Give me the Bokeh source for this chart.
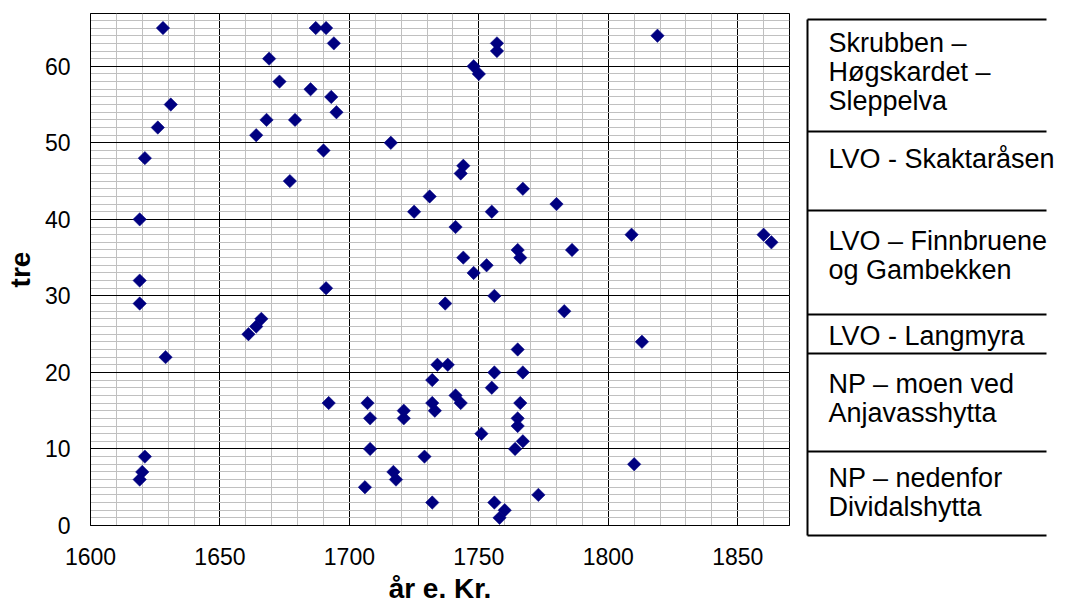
from bokeh.plotting import figure
from bokeh.models import Range1d, SingleIntervalTicker, ColumnDataSource
from bokeh.layouts import row, column
from bokeh.embed import file_html
from bokeh.resources import INLINE
from bokeh.core.properties import value
import numpy as np

# ---- data ----
years = [1628, 1687, 1691, 1694, 1819, 1757, 1757, 1748, 1750, 1669,
         1673, 1685, 1693, 1695, 1631, 1668, 1679, 1626, 1664, 1716,
         1690, 1621, 1744, 1743, 1677, 1767, 1731, 1780, 1725, 1755,
         1619, 1741, 1809, 1860, 1863, 1765, 1786, 1744, 1766, 1753,
         1748, 1619, 1691, 1756, 1619, 1737, 1783, 1666, 1664, 1661,
         1813, 1765, 1629, 1734, 1738, 1756, 1767, 1732, 1755, 1741,
         1743, 1692, 1707, 1732, 1766, 1721, 1733, 1708, 1721, 1765,
         1765, 1751, 1767, 1708, 1764, 1621, 1729, 1810, 1620, 1717,
         1619, 1718, 1706, 1773, 1732, 1756, 1760, 1758]
trees = [65, 65, 65, 63, 64, 63, 62, 60, 59, 61,
         58, 57, 56, 54, 55, 53, 53, 52, 51, 50,
         49, 48, 47, 46, 45, 44, 43, 42, 41, 41,
         40, 39, 38, 38, 37, 36, 36, 35, 35, 34,
         33, 32, 31, 30, 29, 29, 28, 27, 26, 25,
         24, 23, 22, 21, 21, 20, 20, 19, 18, 17,
         16, 16, 16, 16, 16, 15, 15, 14, 14, 14,
         13, 12, 11, 10, 10, 9, 9, 8, 7, 7,
         6, 6, 5, 4, 3, 3, 2, 1]

x_ticks = [1600, 1650, 1700, 1750, 1800, 1850]
y_ticks = [0, 10, 20, 30, 40, 50, 60]

legend_labels = ["Skrubben –\nHøgskardet –\nSleppelva",
                 "LVO - Skaktaråsen",
                 "LVO – Finnbruene\nog Gambekken",
                 "LVO - Langmyra",
                 "NP – moen ved\nAnjavasshytta",
                 "NP – nedenfor\nDividalshytta"]

FONT = "Liberation Sans"

# ---- main chart ----
p = figure(width=805, height=606, output_backend="svg", toolbar_location=None,
           x_range=Range1d(1600, 1870), y_range=Range1d(0, 66.9),
           min_border_left=90, min_border_right=16, min_border_top=13,
           min_border_bottom=80)
p.background_fill_color = "white"
p.border_fill_color = "white"
p.outline_line_color = "black"
p.outline_line_width = 1

xt = SingleIntervalTicker(interval=50, num_minor_ticks=5)
yt = SingleIntervalTicker(interval=10, num_minor_ticks=10)
p.xaxis.ticker = xt
p.yaxis.ticker = yt
p.xgrid.ticker = xt
p.ygrid.ticker = yt

for g in (p.xgrid, p.ygrid):
    g.grid_line_color = "black"
    g.grid_line_width = 1
    g.minor_grid_line_color = "#c0c0c0"
    g.minor_grid_line_width = 1

for ax in (p.xaxis, p.yaxis):
    ax.axis_line_color = "black"
    ax.major_tick_in = 0
    ax.major_tick_out = 0
    ax.minor_tick_in = 0
    ax.minor_tick_out = 0
    ax.major_label_text_font = FONT
    ax.major_label_text_font_size = "23px"
    ax.major_label_text_color = "black"
    ax.axis_label_text_font = FONT
    ax.axis_label_text_font_size = "28px"
    ax.axis_label_text_font_style = "bold"
    ax.axis_label_text_color = "black"

p.xaxis.axis_label = "år e. Kr."
p.yaxis.axis_label = "tre"
p.xaxis.major_label_standoff = 22
p.xaxis.axis_label_standoff = 5
p.yaxis.major_label_standoff = 20
p.yaxis.axis_label_standoff = 6

src = ColumnDataSource(dict(x=years, y=trees))
p.scatter("x", "y", source=src, marker="square", angle=np.pi / 4, size=9.5,
          fill_color="#000080", line_color="#000080", line_width=0.5)

# ---- legend panel (table beside the chart) ----
LW, LH = 271, 606
lg = figure(width=LW, height=LH, output_backend="svg", toolbar_location=None,
            x_range=Range1d(0, LW), y_range=Range1d(LH, 0),
            min_border=0, min_border_left=0, min_border_right=0,
            min_border_top=0, min_border_bottom=0)
lg.axis.visible = False
lg.grid.visible = False
lg.outline_line_color = None
lg.background_fill_color = "white"
lg.border_fill_color = "white"

row_edges = [19, 131, 210, 314, 353, 451, 535]
first_offsets = [23, 27, 30, 21, 30, 26]
line_gap = 29
left = 2

for ye in row_edges:
    lg.line(x=[left, LW - 30], y=[ye, ye], line_color="black", line_width=2)
lg.line(x=[left, left], y=[row_edges[0], row_edges[-1]],
        line_color="black", line_width=2)

tx, ty, tt = [], [], []
for i, lab in enumerate(legend_labels):
    for j, ln in enumerate(lab.split("\n")):
        tx.append(23)
        ty.append(row_edges[i] + first_offsets[i] + j * line_gap)
        tt.append(ln)
lg.text(x=tx, y=ty, text=tt, text_font=value(FONT), text_font_size="27px",
        text_baseline="middle", text_align="left", text_color="black")

layout = row(p, column(lg))
open("out.html", "w").write(file_html(layout, INLINE))
